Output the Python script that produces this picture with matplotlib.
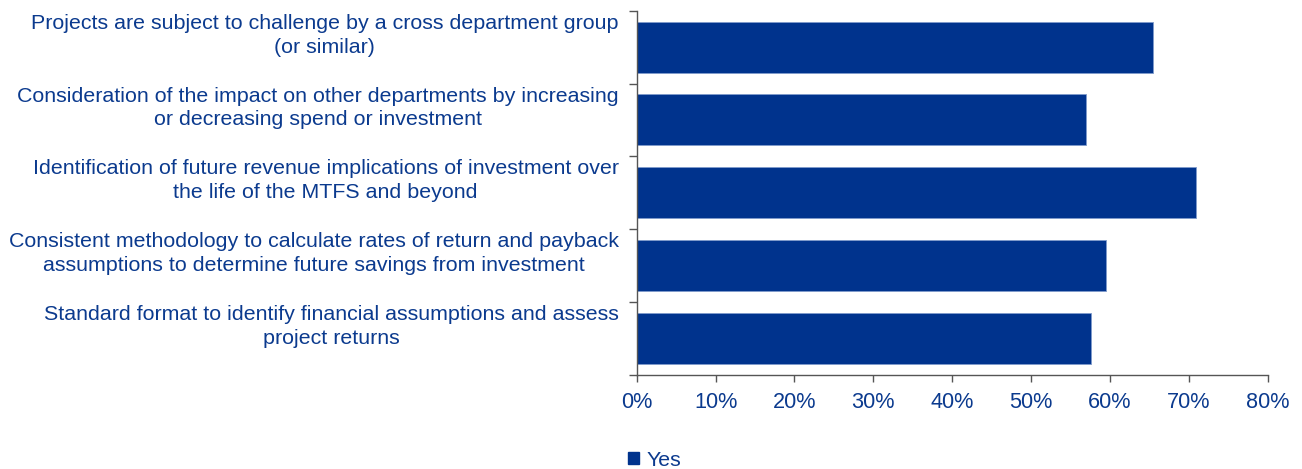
import matplotlib
matplotlib.use("Agg")
import matplotlib.pyplot as plt
from matplotlib.ticker import PercentFormatter
from matplotlib.patches import Patch

categories = [
    "Projects are subject to challenge by a cross department group\n(or similar)",
    "Consideration of the impact on other departments by increasing\nor decreasing spend or investment",
    "Identification of future revenue implications of investment over\nthe life of the MTFS and beyond",
    "Consistent methodology to calculate rates of return and payback\nassumptions to determine future savings from investment",
    "Standard format to identify financial assumptions and assess\nproject returns",
]
values = [65.5, 56.9, 70.9, 59.5, 57.6]
series_name = "Yes"
xticks = [0, 10, 20, 30, 40, 50, 60, 70, 80]

bar_color = "#00338D"
text_color = "#0B3A8E"
plt.rcParams["font.family"] = ["Liberation Sans", "DejaVu Sans"]

fig = plt.figure(figsize=(13.02, 4.69), dpi=100)
ax = fig.add_axes([0.489, 0.2004, 0.4847, 0.7768])

ypos = list(range(len(categories)))
ax.barh(ypos, values, height=0.7, color=bar_color, edgecolor="#7F9BCB", linewidth=0.6)
ax.set_ylim(len(categories) - 0.5, -0.5)
ax.set_xlim(0, 80)
ax.set_xticks(xticks)
ax.xaxis.set_major_formatter(PercentFormatter(decimals=0))

ax.set_yticks(ypos)
ax.set_yticklabels([""] * len(categories))
ax.tick_params(axis="y", which="major", length=0)
trans = ax.get_yaxis_transform()
for i, cat in zip(ypos, categories):
    ax.annotate(cat, xy=(0, i), xycoords=trans, xytext=(-18, 12),
                textcoords="offset pixels", ha="right", va="center",
                multialignment="center", fontsize=15.4, color=text_color,
                linespacing=1.33, annotation_clip=False)

# minor ticks at category boundaries
ax.set_yticks([i - 0.5 for i in range(len(categories) + 1)], minor=True)
ax.tick_params(axis="y", which="minor", length=6, width=1, color="#555555", direction="out")

ax.tick_params(axis="x", labelsize=15.6, labelcolor=text_color, length=5, width=1,
               color="#555555", direction="out", pad=7)

for s in ["top", "right"]:
    ax.spines[s].set_visible(False)
for s in ["left", "bottom"]:
    ax.spines[s].set_color("#555555")
    ax.spines[s].set_linewidth(1)

handles = [Patch(facecolor=bar_color, edgecolor=bar_color, label=series_name)]
leg = fig.legend(handles=handles, loc="center", bbox_to_anchor=(0.503, 0.019), frameon=False,
                 fontsize=15.4, handlelength=0.5, handleheight=0.5, handletextpad=0.35)
for t in leg.get_texts():
    t.set_color(text_color)

fig.savefig("out.png", dpi=100)
